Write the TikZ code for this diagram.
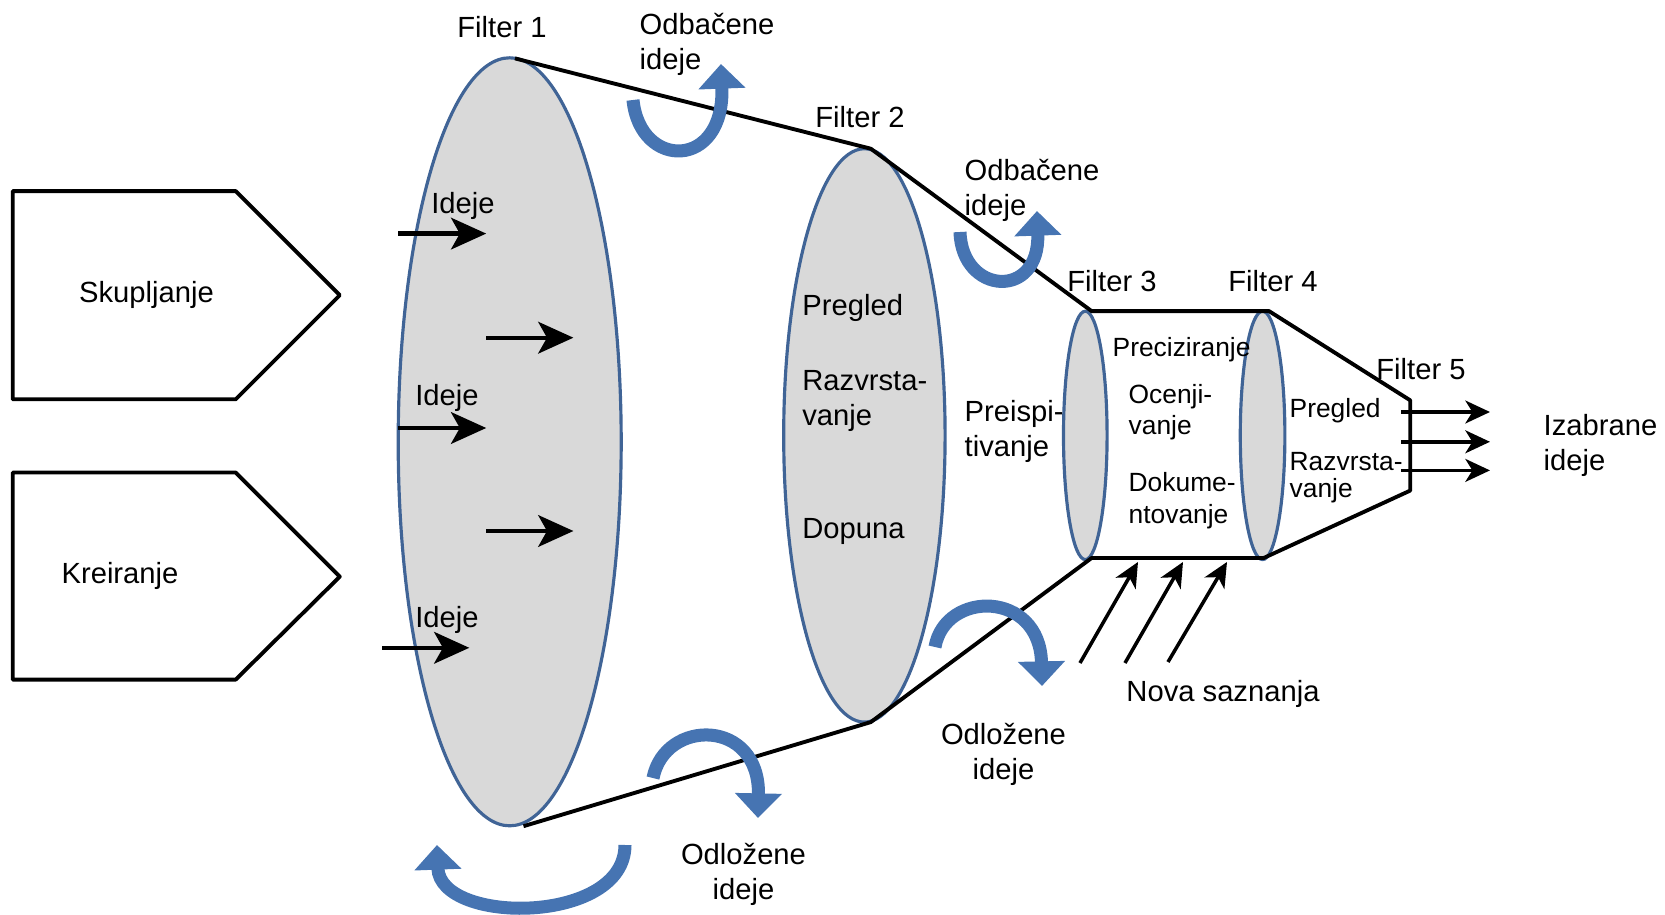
\documentclass[tikz,border=0pt]{standalone}
\usepackage{fontspec}
\setmainfont{Liberation Sans}
\usetikzlibrary{arrows.meta}
\definecolor{filterline}{RGB}{64,100,150}
\definecolor{filterfill}{RGB}{217,217,217}
\definecolor{loopblue}{RGB}{70,116,178}
\tikzset{
  filter/.style={draw=filterline,fill=filterfill,line width=0.9pt},
  funnel/.style={line width=1.1pt,line join=round},
  idea/.style={line width=1.2pt,-{Stealth[length=10pt,width=9pt,inset=2.5pt]}},
  thin idea/.style={line width=1pt,-{Stealth[length=7pt,width=6.5pt,inset=2pt]}},
  loop arrow/.style={loopblue,line width=3.7pt,-{Triangle[length=7pt,width=13pt]}},
  lbl/.style={inner sep=0pt,align=left,yshift=-0.9pt},
  lblc/.style={inner sep=0pt,align=center,yshift=-0.9pt},
  small lbl/.style={lbl,anchor=west,font=\fontsize{7.5}{9}\selectfont}
}

\begin{document}
\begin{tikzpicture}[x=0.01cm,y=-0.01cm,font=\fontsize{8.3}{10}\selectfont]
  \useasboundingbox (0,0) rectangle (1665,915);

  % FILTERS
  \draw[filter] (509.7,441.8) ellipse [x radius=111.5,y radius=384];
  \draw[filter] (864.4,435.4) ellipse [x radius=80.7,y radius=286.7];
  \draw[filter] (1085.3,435.4) ellipse [x radius=21.8,y radius=124.2];
  \draw[filter] (1262.6,435.4) ellipse [x radius=22.3,y radius=124.2];

  % FUNNEL
  \coordinate (f1t) at (515,58.4);
  \coordinate (f2t) at (870.8,148.7);
  \coordinate (f3t) at (1091.6,311.1);
  \coordinate (f4t) at (1269,311.1);
  \coordinate (f5t) at (1410.2,400.3);
  \coordinate (f5b) at (1410.2,490.6);
  \coordinate (f4b) at (1263.7,558);
  \coordinate (f3b) at (1091.6,558);
  \coordinate (f2b) at (870.8,722.1);
  \coordinate (f1b) at (523.5,826.2);
  \draw[funnel] (f1t) -- (f2t) -- (f3t) -- (f4t) -- (f5t) -- (f5b) -- (f4b) -- (f3b) -- (f2b) -- (f1b);

  % INPUT BLOCKS
  \draw[funnel] (12.7,191.1) -- (235.7,191.1) -- (339.8,295.2) -- (235.7,399.3) -- (12.7,399.3) -- cycle;
  \draw[funnel] (12.7,472.5) -- (235.7,472.5) -- (339.8,576.6) -- (235.7,679.6) -- (12.7,679.6) -- cycle;
  \node[lblc] (skup) at (146.5,292) {Skupljanje};
  \node[lblc] (krei) at (120,573) {Kreiranje};

  % IDEAS IN
  \draw[idea] (398.2,233.6) -- ++(88,0);
  \draw[idea] (486.4,337.7) -- ++(87,0);
  \draw[idea] (398.2,428) -- ++(88,0);
  \draw[idea] (486.4,531) -- ++(87,0);
  \draw[idea] (382.3,647.8) -- ++(87,0);
  \node[lblc] (ideje1) at (463,202.8) {Ideje};
  \node[lblc] (ideje2) at (447,395) {Ideje};
  \node[lblc] (ideje3) at (447,617) {Ideje};

  % LABELS
  \node[lblc] (filt1) at (502,24.4) {Filter 1};
  \node[lblc] (filt2) at (860,113.6) {Filter 2};
  \node[lblc] (filt3) at (1112,278) {Filter 3};
  \node[lblc] (filt4) at (1273,278) {Filter 4};
  \node[lblc] (filt5) at (1421,366) {Filter 5};
  \node[lbl,anchor=west] (odb1) at (639,41) {Odba\v{c}ene\\ideje};
  \node[lbl,anchor=west] (odb2) at (964,187.5) {Odba\v{c}ene\\ideje};
  \node[lblc] (odl1) at (743.5,871) {Odlo\v{z}ene\\ideje};
  \node[lblc] (odl2) at (1003.5,751) {Odlo\v{z}ene\\ideje};
  \node[lbl,anchor=west] (izab) at (1543,442.5) {Izabrane\\ideje};
  \node[lblc] (nova) at (1223,691) {Nova saznanja};

  \node[lbl,anchor=west] (preg2) at (801.7,305) {Pregled};
  \node[lbl,anchor=west] (razv2) at (801.7,398) {Razvrsta-\\vanje};
  \node[lbl,anchor=west] (dopu2) at (801.7,528) {Dopuna};
  \node[lbl,anchor=west] (preis) at (964,428.5) {Preispi-\\tivanje};
  \node[small lbl] (prec) at (1112,347) {Preciziranje};
  \node[small lbl] (ocen) at (1128,409) {Ocenji-\\vanje};
  \node[small lbl] (doku) at (1128,497.5) {Dokume-\\ntovanje};
  \node[small lbl] (preg4) at (1289,408) {Pregled};
  \node[small lbl,font=\fontsize{7.5}{7.8}\selectfont] (razv4) at (1289,474.5) {Razvrsta-\\vanje};

  % NEW KNOWLEDGE
  \draw[thin idea] (1080,663) -- (1138,562);
  \draw[thin idea] (1125,663) -- (1183,562);
  \draw[thin idea] (1168,662) -- (1227,562);

  % SELECTED
  \draw[thin idea] (1401,412) -- (1490,412);
  \draw[thin idea] (1401,441.8) -- (1490,441.8);
  \draw[thin idea] (1401,470.4) -- (1490,470.4);

  % LOOPS
  \draw[loop arrow] (633,100) .. controls (640,170) and (725,170) .. (721,64);
  \draw[loop arrow] (960,232) .. controls (962,295) and (1040,300) .. (1037,211);
  \draw[loop arrow] (935,647) .. controls (945,590) and (1040,590) .. (1042,686);
  \draw[loop arrow] (653,778) .. controls (665,718) and (760,718) .. (758,818);
  \draw[loop arrow] (625,845) .. controls (625,925) and (440,925) .. (437,845);
\end{tikzpicture}
\end{document}
